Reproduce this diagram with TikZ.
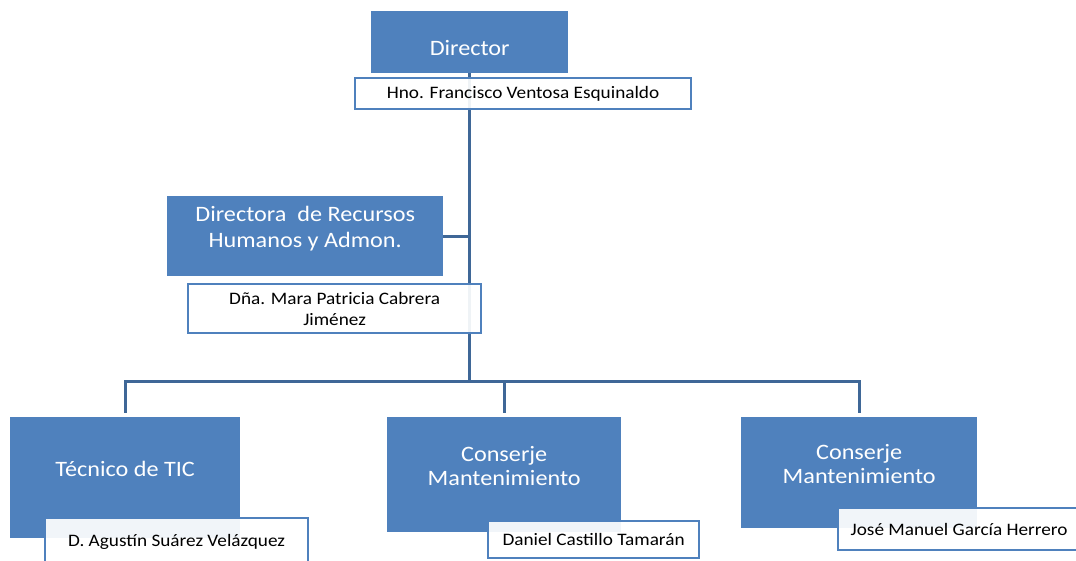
\documentclass[tikz,border=0pt]{standalone}
\usepackage{fontspec}
\setmainfont{Carlito}[FakeStretch=1.1]
\usetikzlibrary{positioning, backgrounds}

\definecolor{orgBlue}{HTML}{4F81BD}
\definecolor{orgLine}{HTML}{3F6797}

\begin{document}
\begin{tikzpicture}[
        x=1pt, y=-1pt,
        % Global Styles
        role/.style={rectangle, fill=orgBlue, text=white, align=center, inner sep=0pt, anchor=north west, text depth=18pt, font=\fontsize{22}{26}\selectfont},
        person/.style={rectangle, draw=orgBlue, line width=2.2pt, fill=white, fill opacity=0.92, text opacity=1, align=center, inner sep=0pt, anchor=north west, font=\fontsize{17.5}{21}\selectfont},
        link/.style={draw=orgLine, line width=3pt}, % Org chart line
        drop/.style={link, shorten >=4pt} % Line down to a box
    ]

    \useasboundingbox (0,0) rectangle (1076,561);

    % --- Nodes ---

    % 1. Director
    \node [role, text depth=0pt, text height=27pt, minimum width=197, minimum height=62] (director) at (371,11) {Director};
    \node [person, minimum width=336, minimum height=31] (hno) at (354,77) {Hno. Francisco Ventosa Esquinaldo};

    % 2. Recursos Humanos
    \node [role, minimum width=276, minimum height=80] (rrhh) at (167,196) {Directora\ \ de Recursos\\Humanos y Admon.};
    \node [person, minimum width=293, minimum height=49] (mara) at (187,283) {Dña. Mara Patricia Cabrera\\Jiménez};

    % 3. Staff
    \node [role, minimum width=230, minimum height=121] (tic) at (10,417) {Técnico de TIC};
    \node [person, minimum width=263, minimum height=48] (agustin) at (44,517) {D. Agustín Suárez Velázquez};

    \node [role, font=\fontsize{22}{23.5}\selectfont, minimum width=234, minimum height=115] (conserjeA) at (387,417) {Conserje\\Mantenimiento};
    \node [person, minimum width=211, minimum height=37] (daniel) at (487,520) {Daniel Castillo Tamarán};

    \node [role, font=\fontsize{22}{23.5}\selectfont, minimum width=236, minimum height=111] (conserjeB) at (741,417) {Conserje\\Mantenimiento};
    \node [person, minimum width=242, minimum height=42] (jose) at (837,507) {José Manuel García Herrero};

    % --- Paths ---
    \coordinate (hub) at (director.south |- 0,381);

    \begin{scope}[on background layer]
        \draw [link] (director.south) -- (hub);
        \draw [link] (rrhh.east) -- (rrhh.east -| hub);
        \draw [drop] (hub) -| (tic.north);
        \draw [drop] (hub) -| (conserjeA.north);
        \draw [drop] (hub) -| (conserjeB.north);
    \end{scope}

\end{tikzpicture}
\end{document}
